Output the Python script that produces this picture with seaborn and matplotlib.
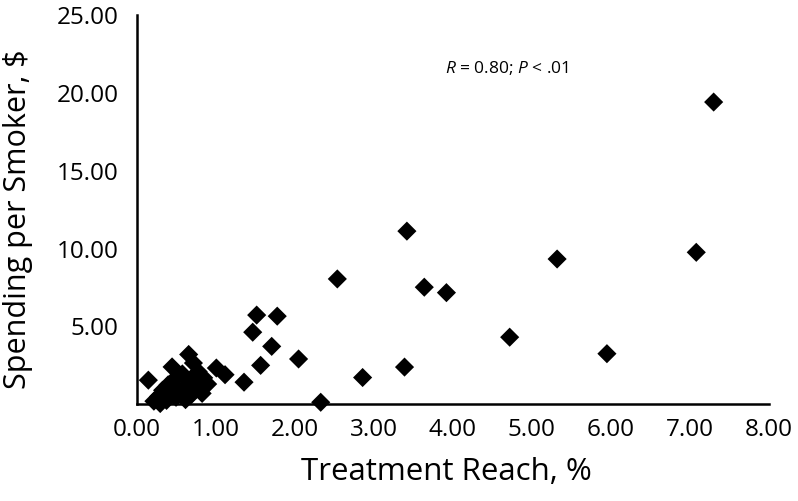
# =========================
# IMPORTS
# =========================
import numpy as np
import pandas as pd
import matplotlib
matplotlib.use("Agg")
import matplotlib.pyplot as plt
import seaborn as sns

# =========================
# DATA
# =========================
reach = [
    7.30, 3.42, 7.08, 5.32, 2.54, 3.64, 3.92, 1.52, 1.78, 1.47,
    4.72, 1.71, 5.95, 2.05, 1.57, 3.39, 2.86, 1.36, 2.33, 1.12,
    1.01,
    # dense cluster near the origin
    0.15, 0.22, 0.28, 0.33, 0.38, 0.40, 0.45, 0.48, 0.50, 0.55,
    0.58, 0.60, 0.62, 0.66, 0.68, 0.70, 0.72, 0.75, 0.78, 0.82,
    0.85, 0.90, 0.45, 0.30, 0.83,
]
spending = [
    19.41, 11.12, 9.76, 9.33, 8.05, 7.52, 7.17, 5.73, 5.66, 4.63,
    4.31, 3.72, 3.25, 2.91, 2.50, 2.39, 1.72, 1.42, 0.13, 1.90,
    2.33,
    1.55, 0.20, 0.50, 0.90, 0.25, 1.25, 2.40, 1.60, 0.45, 0.80,
    1.95, 1.05, 0.30, 3.20, 0.55, 1.50, 2.65, 0.95, 2.10, 1.15,
    1.70, 1.30, 1.00, 0.05, 0.70,
]

x_ticks = [0, 1, 2, 3, 4, 5, 6, 7, 8]
y_ticks = [0, 5, 10, 15, 20, 25]
y_tick_labels = ["", "5.00", "10.00", "15.00", "20.00", "25.00"]

df = pd.DataFrame({"reach": reach, "spending": spending})

# =========================
# STYLE
# =========================
sns.set_style("white")
plt.rcParams["font.family"] = ["Open Sans", "DejaVu Sans"]
plt.rcParams["text.color"] = "black"
plt.rcParams["axes.labelcolor"] = "black"
plt.rcParams["mathtext.fontset"] = "custom"
plt.rcParams["mathtext.rm"] = "Open Sans"
plt.rcParams["mathtext.it"] = "Open Sans:italic"

# =========================
# PLOT
# =========================
fig = plt.figure(figsize=(7.98, 5.01), dpi=100)
ax = fig.add_axes([136.5 / 798, (501 - 404.3) / 501, 632.5 / 798, 389.3 / 501])

sns.scatterplot(data=df, x="reach", y="spending", marker="D", s=95,
                color="black", edgecolor="none", ax=ax, clip_on=False)

ax.set_xlim(0, 8)
ax.set_ylim(0, 25)
ax.set_xticks(x_ticks)
ax.set_xticklabels([f"{t:.2f}" for t in x_ticks])
ax.set_yticks(y_ticks)
ax.set_yticklabels(y_tick_labels)

for side in ["top", "right"]:
    ax.spines[side].set_visible(False)
for side in ["left", "bottom"]:
    ax.spines[side].set_linewidth(1.8)
    ax.spines[side].set_color("black")

ax.tick_params(axis="both", which="major", direction="out", color="black",
               width=1.8, labelsize=17.5, labelcolor="black")
ax.tick_params(axis="x", length=7, pad=3)
ax.tick_params(axis="y", length=8, pad=5)

ax.set_xlabel("Treatment Reach, %", fontsize=22.5, color="black")
ax.set_ylabel("Spending per Smoker, $", fontsize=22, color="black")
ax.xaxis.set_label_coords(0.49, -0.135)
ax.yaxis.set_label_coords(-0.163, 0.475)

ax.text(4.68, 21.6, r"$\mathit{R}$ = 0.80; $\mathit{P}$ < .01",
        fontsize=12.5, ha="center", va="center", color="black")

fig.savefig("out.png", dpi=100)
